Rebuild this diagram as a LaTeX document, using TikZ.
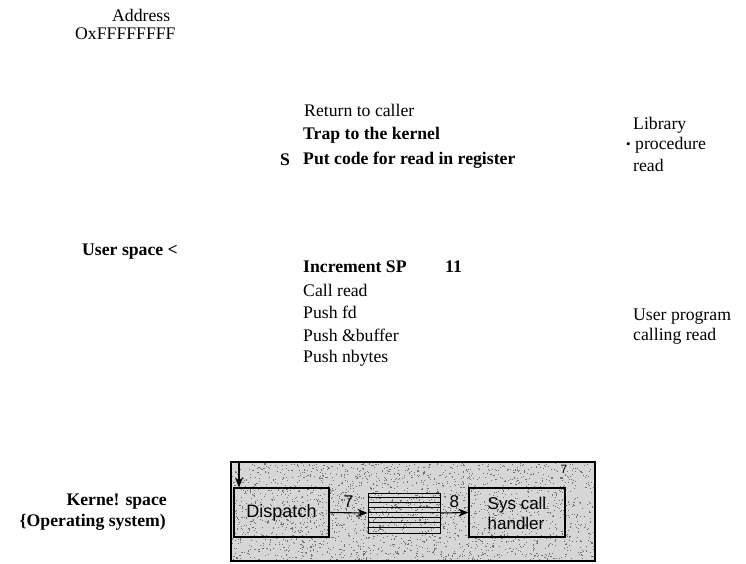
\documentclass[tikz,border=0pt]{standalone}
\usepackage{fontspec}
\setmainfont{Liberation Serif}
\newfontfamily\boxfont{Liberation Sans}
\usetikzlibrary{arrows.meta}
\begin{document}
\begin{tikzpicture}[x=1pt,y=-1pt,
  lbl/.style={anchor=west,inner sep=0pt,font=\fontsize{17.7}{20}\selectfont},
  blbl/.style={lbl,font=\fontsize{17.7}{20}\selectfont\bfseries},
  kbox/.style={draw=black,line width=1.2pt,inner sep=0pt,font=\boxfont\fontsize{18}{18}\selectfont,align=center},
  karrow/.style={draw=black,line width=1.1pt,-{Stealth[length=10pt,width=8pt,inset=3pt]}},
  knum/.style={inner sep=0pt,font=\boxfont\fontsize{17}{18}\selectfont}]
\useasboundingbox (0,0) rectangle (746,563);
% user-space texts
\node[lbl] (addr) at (112,15) {Address};
\node[lbl] (ffff) at (75,34) {OxFFFFFFFF};
\node[lbl] (ret) at (304,110) {Return to\ caller};
\node[blbl] (trap) at (303,135) {Trap to the kernel};
\node[blbl] (s) at (280,160) {S};
\node[blbl] (put) at (303,160) {Put code for read in register};
\node[lbl] (lib1) at (633,125) {Library};
\node[lbl,font=\fontsize{13}{14}\selectfont] (bul) at (626,146) {•};
\node[lbl] (lib2) at (635,145) {procedure};
\node[lbl] (lib3) at (633,165) {read};
\node[blbl] (us) at (82,252) {User space <};
\node[blbl] (inc) at (303,267) {Increment SP};
\node[blbl] (eleven) at (445,267) {11};
\node[lbl] (call) at (303,290) {Call\ read};
\node[lbl] (pfd) at (303,312) {Push\ fd};
\node[lbl] (pbuf) at (303,335) {Push\ \&buffer};
\node[lbl] (pnb) at (303,358) {Push\ nbytes};
\node[lbl] (up1) at (633,317) {User\ program};
\node[lbl] (up2) at (633,336) {calling\ read};
\node[blbl,anchor=east] (ks1) at (167,502) {Kerne! space};
\node[blbl,anchor=east] (ks2) at (166,522) {\{Operating system)};
% kernel area
\fill[black!16] (231,462) rectangle (595,561);
\pgfmathsetseed{7}
\foreach \i in {1,...,2200}{
  \pgfmathsetmacro{\px}{232+362*rnd}
  \pgfmathsetmacro{\py}{463+97*rnd}
  \fill[black!55] (\px,\py) rectangle ++(1.1,1.1);
}
\node[draw=black,line width=1.2pt,minimum width=364pt,minimum height=99pt,inner sep=0pt] (kern) at (413,511.5) {};
\node[kbox,minimum width=95pt,minimum height=49pt] (disp) at (281.5,512.5) {Dispatch};
\node[kbox,minimum width=96pt,minimum height=49pt] (sysa) at (517,512.5) {};
\node[inner sep=0pt,font=\boxfont\fontsize{17}{18}\selectfont] (sys1) at (517,505.5) {Sys call};
\node[inner sep=0pt,font=\boxfont\fontsize{17}{18}\selectfont] (sys2) at (516,523.5) {handler};
\node[draw=black,line width=1pt,minimum width=72pt,minimum height=40pt,inner sep=0pt] (tab) at (404,513) {};
\foreach \k in {1,...,7}{
  \draw[line width=1pt] ([yshift=-\k*5pt]tab.north west) -- ([yshift=-\k*5pt]tab.north east);
}
\coordinate (topin) at (239,462);
\draw[karrow] (topin) -- (topin |- disp.north);
\draw[karrow] (disp.east) -- (tab.west) node[knum,midway,above=5pt] {7};
\draw[karrow] (tab.east) -- (sysa.west) node[knum,midway,above=5pt] {8};
\node[knum,font=\boxfont\fontsize{12}{12}\selectfont] (seven) at (564,469) {7};
\end{tikzpicture}
\end{document}
